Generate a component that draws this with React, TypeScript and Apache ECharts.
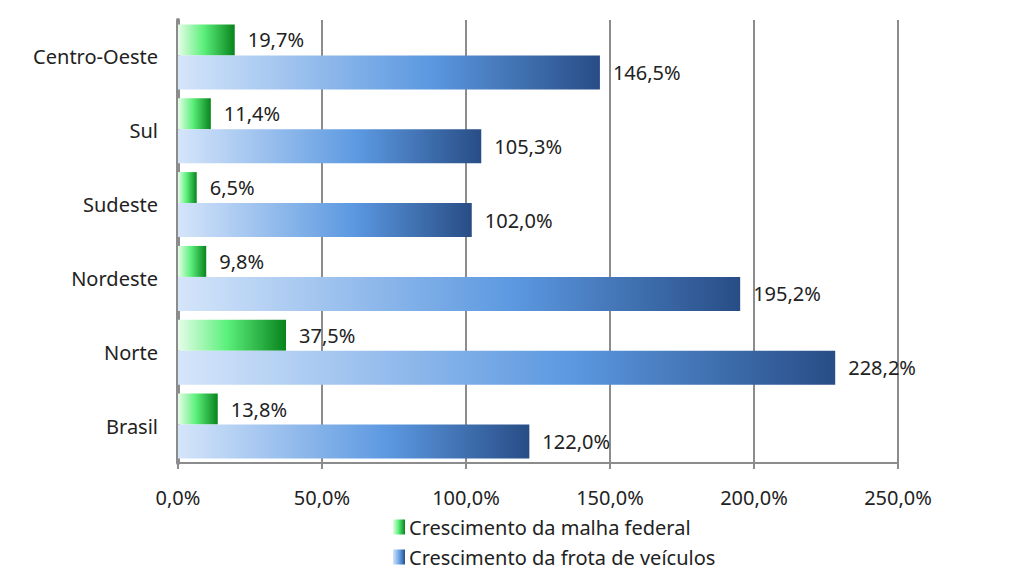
import React, { useEffect, useRef } from "react";
import * as echarts from "echarts";

const categories = ["Brasil", "Norte", "Nordeste", "Sudeste", "Sul", "Centro-Oeste"];
const malhaFederal = [13.8, 37.5, 9.8, 6.5, 11.4, 19.7];
const frotaVeiculos = [122.0, 228.2, 195.2, 102.0, 105.3, 146.5];
const xTicks = [0, 50, 100, 150, 200, 250];
const seriesNames = ["Crescimento da malha federal", "Crescimento da frota de veículos"];

const fmt = (v: number) => v.toFixed(1).replace(".", ",") + "%";

const greenGrad = new echarts.graphic.LinearGradient(0, 0, 1, 0, [
  { offset: 0, color: "#e6fde8" },
  { offset: 0.45, color: "#5cf07c" },
  { offset: 1, color: "#08841c" },
]);
const blueGrad = new echarts.graphic.LinearGradient(0, 0, 1, 0, [
  { offset: 0, color: "#d5e5fa" },
  { offset: 0.6, color: "#5b98e0" },
  { offset: 1, color: "#284d86" },
]);

export default function App() {
  const ref = useRef<HTMLDivElement>(null);
  useEffect(() => {
    if (!ref.current) return;
    const chart = echarts.init(ref.current, undefined, { renderer: "svg" });
    const font = "Noto Sans";
    const labelStyle = {
      show: true,
      position: "right",
      distance: 13,
      fontSize: 20,
      color: "#222",
      fontFamily: font,
      formatter: (p: any) => fmt(p.value),
    };
    chart.setOption({
      animation: false,
      textStyle: { fontFamily: font },
      grid: { left: 178, right: 126, top: 20, bottom: 111 },
      legend: {
        orient: "vertical",
        left: 388,
        top: 511,
        height: 120,
        itemGap: 8,
        itemWidth: 12,
        itemHeight: 15,
        icon: "rect",
        data: [
          { name: seriesNames[0], itemStyle: { color: greenGrad } },
          { name: seriesNames[1], itemStyle: { color: blueGrad } },
        ],
        textStyle: { fontSize: 20, lineHeight: 22, color: "#222", fontFamily: font, padding: [0, 0, 0, -1] },
      },
      xAxis: {
        type: "value",
        min: 0,
        max: 250,
        interval: 50,
        axisLine: { show: true, lineStyle: { color: "#8c8c8c", width: 2 } },
        axisTick: { show: true, length: 6, lineStyle: { color: "#8c8c8c", width: 2 } },
        splitLine: { show: true, lineStyle: { color: "#8c8c8c", width: 2 } },
        axisLabel: {
          margin: 24,
          fontSize: 20,
          color: "#222",
          fontFamily: font,
          formatter: (v: number) => (xTicks.includes(v) ? fmt(v) : ""),
        },
      },
      yAxis: {
        type: "category",
        data: categories,
        axisLine: { show: true, lineStyle: { color: "#8c8c8c", width: 4 } },
        axisTick: { show: false },
        axisLabel: { margin: 20, fontSize: 20, color: "#222", fontFamily: font },
      },
      series: [
        {
          name: seriesNames[0],
          type: "bar",
          data: malhaFederal,
          barWidth: 31,
          barGap: "0%",
          itemStyle: { color: greenGrad },
          label: labelStyle,
        },
        {
          name: seriesNames[1],
          type: "bar",
          data: frotaVeiculos,
          barWidth: 34,
          barGap: "0%",
          itemStyle: { color: blueGrad },
          label: labelStyle,
        },
      ],
    });
    return () => chart.dispose();
  }, []);
  return (
    <div
      ref={ref}
      style={{ position: "fixed", left: 0, top: 0, width: 1024, height: 574, background: "#fff" }}
    />
  );
}
